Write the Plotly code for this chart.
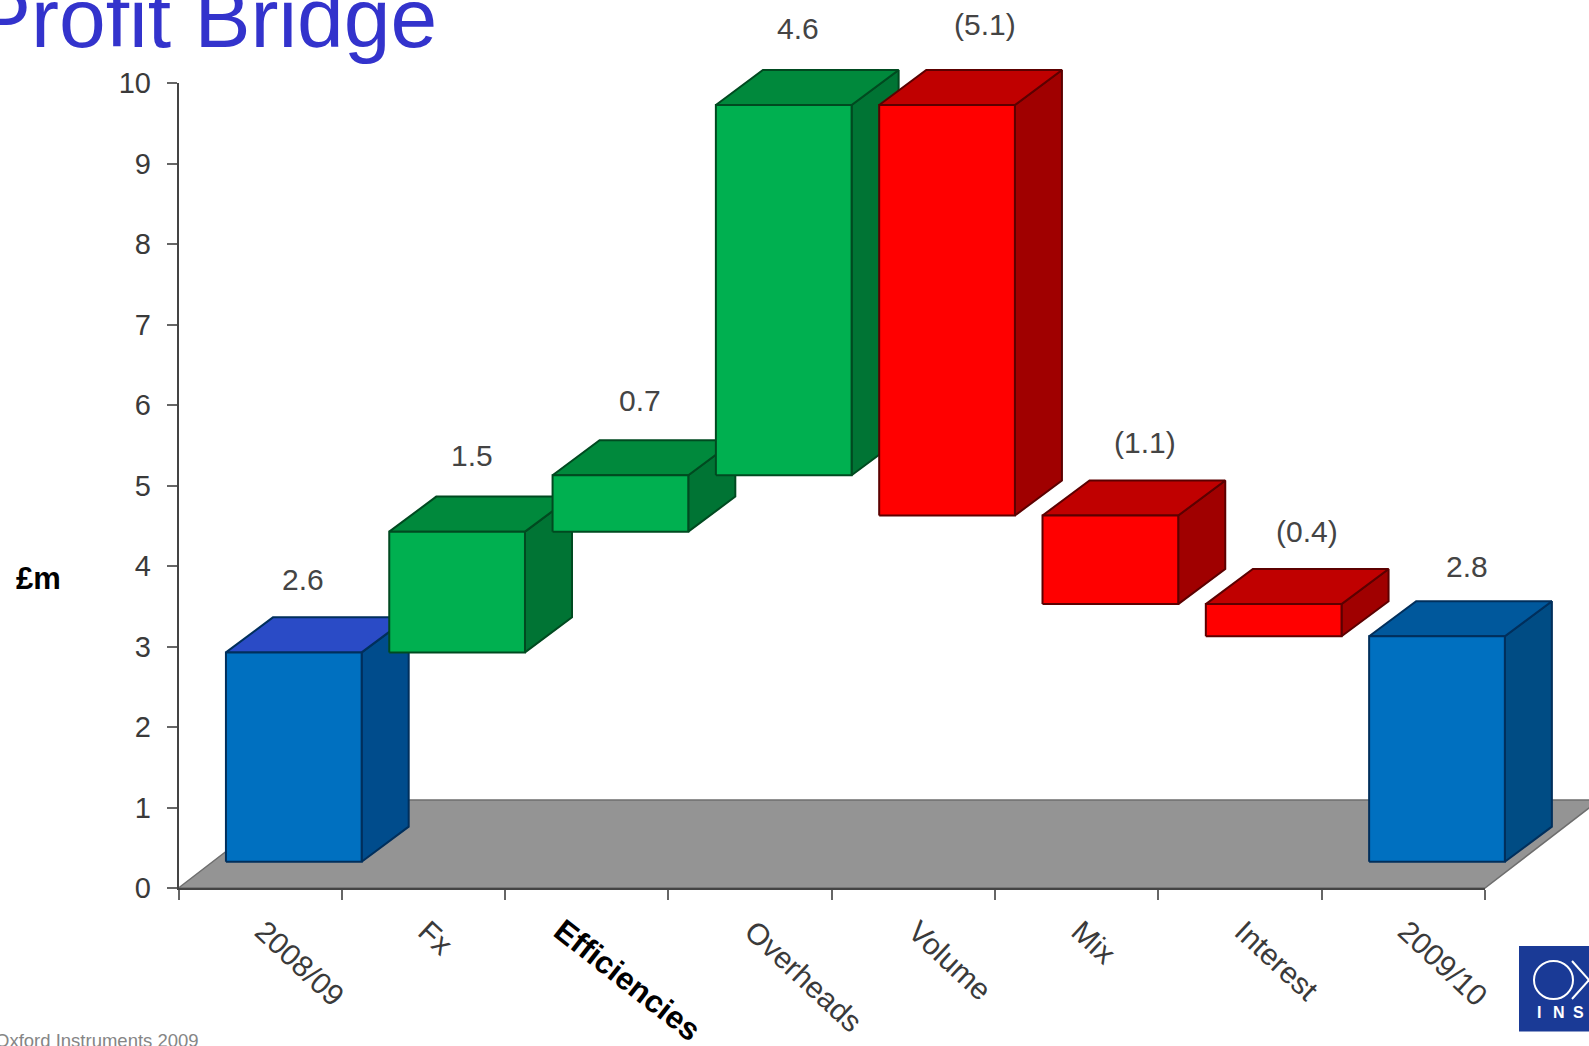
import numpy as np
import plotly.graph_objects as go

# Profit bridge data, in GBP millions
categories = ["2008/09", "Fx", "Efficiencies", "Overheads", "Volume", "Mix", "Interest", "2009/10"]
changes = [2.6, 1.5, 0.7, 4.6, -5.1, -1.1, -0.4, 2.8]
value_labels = ["2.6", "1.5", "0.7", "4.6", "(5.1)", "(1.1)", "(0.4)", "2.8"]
bar_kinds = ["start", "up", "up", "up", "down", "down", "down", "end"]
y_ticks = list(range(0, 11))

W, H = 1589, 1046
M_L, M_R, M_T, M_B = 178.5, 104, 83, 158
n = len(categories)
Y_MAX = 10
UX = (W - M_L - M_R) / n
UY = (H - M_T - M_B) / Y_MAX

# Pseudo-3D projection, expressed in axis units
BAR_WIDTH = 0.831
BAR_GAP = (1 - BAR_WIDTH) / 2
FLOOR_DX, FLOOR_DY = 0.70, 1.093
FRONT_DX, FRONT_DY = 0.206, 0.327
DEPTH_DX, DEPTH_DY = 0.288, 0.435

PALETTE = {
    "start": dict(front="#0070c0", top="#2a4bc6", side="#004c8c", edge="#002f5c"),
    "end": dict(front="#0070c0", top="#00589c", side="#004c84", edge="#002f5c"),
    "up": dict(front="#00b050", top="#00893c", side="#007434", edge="#004a20"),
    "down": dict(front="#ff0000", top="#c00000", side="#a00000", edge="#5c0000"),
}

# Running total gives each bar its lower and upper level
levels = np.cumsum(changes[:-1])
bases, tops = [], []
for i, (kind, ch) in enumerate(zip(bar_kinds, changes)):
    if kind in ("start", "end"):
        bases.append(0.0)
        tops.append(ch)
    else:
        a = levels[i - 1]
        b = levels[i]
        bases.append(float(min(a, b)))
        tops.append(float(max(a, b)))


def polygon(xs, ys, fill, edge, width=2):
    return go.Scatter(
        x=xs, y=ys, xaxis="x", yaxis="y", mode="lines", fill="toself", fillcolor=fill,
        line=dict(color=edge, width=width), hoverinfo="skip", showlegend=False,
    )


fig = go.Figure()

# Floor plane receding from the category axis
fig.add_trace(polygon(
    [0, n, n + FLOOR_DX, FLOOR_DX, 0],
    [0, 0, FLOOR_DY, FLOOR_DY, 0],
    "#949494", "#6e6e6e", 1.5,
))

# Bars run left to right so that each one covers the side of its neighbour
for i, kind in enumerate(bar_kinds):
    c = PALETTE[kind]
    x0 = i + BAR_GAP + FRONT_DX
    x1 = x0 + BAR_WIDTH
    y0 = bases[i] + FRONT_DY
    y1 = tops[i] + FRONT_DY
    fig.add_trace(polygon(
        [x1, x1 + DEPTH_DX, x1 + DEPTH_DX, x1, x1],
        [y0, y0 + DEPTH_DY, y1 + DEPTH_DY, y1, y0],
        c["side"], c["edge"],
    ))
    fig.add_trace(polygon(
        [x0, x1, x1 + DEPTH_DX, x0 + DEPTH_DX, x0],
        [y1, y1, y1 + DEPTH_DY, y1 + DEPTH_DY, y1],
        c["top"], c["edge"],
    ))
    fig.add_trace(polygon(
        [x0, x1, x1, x0, x0],
        [y0, y0, y1, y1, y0],
        c["front"], c["edge"],
    ))

# The drawn axes live on their own subplot so they stay above the floor
fig.add_trace(go.Scatter(
    x=[0], y=[0], xaxis="x2", yaxis="y2", mode="markers",
    marker=dict(opacity=0), hoverinfo="skip", showlegend=False,
))

# Value captions float above each bar's back edge
label_dx = [9, 15, 19, 14, 37, 34, 33, 30]
label_dy = [37, 41, 39, 41, 45, 38, 37, 34]
annotations = []
for i, text in enumerate(value_labels):
    annotations.append(dict(
        x=i + BAR_GAP + FRONT_DX + BAR_WIDTH / 2,
        y=tops[i] + FRONT_DY + DEPTH_DY,
        xref="x", yref="y", text=text, showarrow=False,
        xshift=label_dx[i] * 1.0134, yshift=label_dy[i] * 1.0134,
        xanchor="center", yanchor="middle",
        font=dict(family="Liberation Sans", size=30, color="#444444"),
    ))


def px(x):
    return x / W


def py(y):
    return 1 - y / H


def page_text(x, y, text, size, color, anchor="left"):
    return dict(
        x=px(x), y=py(y), xref="paper", yref="paper", text=text, showarrow=False,
        xanchor=anchor, yanchor="middle",
        font=dict(family="Liberation Sans", size=size, color=color),
    )


annotations += [
    page_text(-27, 18, "Profit Bridge", 84, "#3333cc"),
    page_text(14, 578, "<b>£m</b>", 31, "#000000"),
    page_text(-7, 1040, "Oxford Instruments 2009", 18.5, "#858585"),
]
for letter, cx in zip("INST", [1539, 1559, 1578, 1596]):
    annotations.append(page_text(cx, 1012, f"<b>{letter}</b>", 16, "#ffffff", anchor="center"))

# The highlighted category sits in its own bold, shallower caption
EMPH = categories.index("Efficiencies")
annotations.append(dict(
    x=EMPH + 0.5, y=py(980), xref="x2", yref="paper", xshift=41,
    text=f"<b>{categories[EMPH]}</b>", showarrow=False, textangle=38,
    xanchor="center", yanchor="middle",
    font=dict(family="Liberation Sans", size=31.5, color="#000000"),
))

# Company mark in the bottom corner
shapes = [
    dict(type="rect", xref="paper", yref="paper", x0=px(1519), x1=px(1595), y0=py(946), y1=py(1031.5),
         fillcolor="#1a3a96", line=dict(width=0)),
    dict(type="circle", xref="paper", yref="paper", x0=px(1534), x1=px(1573), y0=py(961), y1=py(999),
         line=dict(color="#ffffff", width=2)),
    dict(type="line", xref="paper", yref="paper", x0=px(1572), x1=px(1606), y0=py(961), y1=py(999),
         line=dict(color="#ffffff", width=2)),
    dict(type="line", xref="paper", yref="paper", x0=px(1572), x1=px(1606), y0=py(999), y1=py(961),
         line=dict(color="#ffffff", width=2)),
]

tick_text = ["" if i == EMPH else c for i, c in enumerate(categories)]

fig.update_layout(
    template="none",
    width=W, height=H, autosize=False,
    margin=dict(l=0, r=0, t=0, b=0, pad=0, autoexpand=False),
    paper_bgcolor="#ffffff", plot_bgcolor="rgba(0,0,0,0)",
    showlegend=False, annotations=annotations, shapes=shapes,
    # Full-page axes carrying the marks, on the same scale as the drawn axes
    xaxis=dict(domain=[0, 1], range=[-M_L / UX, (W - M_L) / UX], visible=False, automargin=False),
    yaxis=dict(domain=[0, 1], range=[-M_B / UY, (H - M_B) / UY], visible=False, automargin=False),
    xaxis2=dict(
        domain=[M_L / W, 1 - M_R / W], anchor="y2",
        range=[0, n], automargin=False, showgrid=False, zeroline=False,
        showline=True, linecolor="#444444", linewidth=2,
        tickmode="array", tickvals=[i + 0.5 for i in range(n)], ticktext=tick_text,
        ticks="", tickangle=43, ticklabelstandoff=12, ticklabelshift=3,
        tickfont=dict(family="Liberation Sans", size=30, color="#3a3a3a"),
        minor=dict(ticks="outside", tick0=0, dtick=1, ticklen=10, tickwidth=1.5, tickcolor="#666666", showgrid=False),
    ),
    yaxis2=dict(
        domain=[M_B / H, 1 - M_T / H], anchor="x2",
        range=[0, Y_MAX], automargin=False, showgrid=False, zeroline=False,
        showline=True, linecolor="#444444", linewidth=1.5,
        tickmode="array", tickvals=y_ticks,
        ticks="outside", ticklen=10, tickwidth=1.5, tickcolor="#666666",
        ticklabelstandoff=10,
        tickfont=dict(family="Liberation Sans", size=29, color="#3a3a3a"),
    ),
)

fig.write_html("out.html")
